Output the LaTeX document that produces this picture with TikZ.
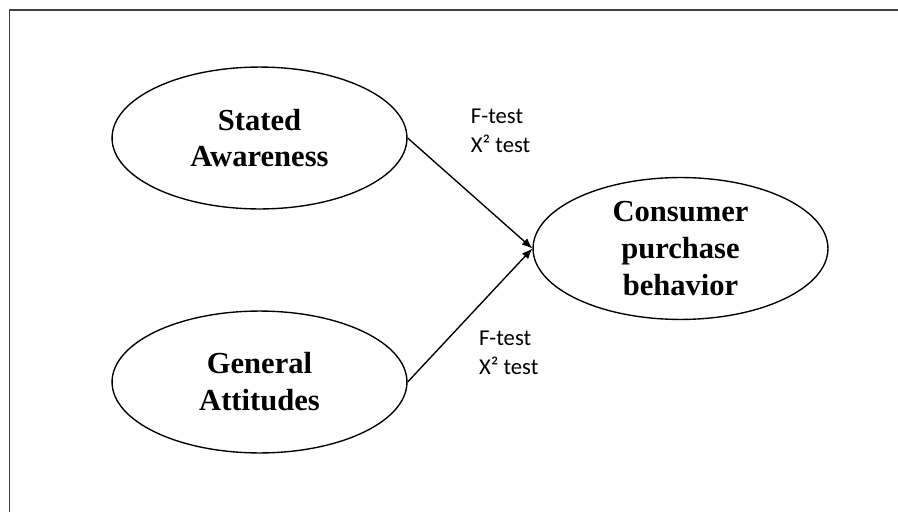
\documentclass[tikz,border=0pt]{standalone}
\usepackage{fontspec}
\setmainfont{Liberation Serif}
\newfontfamily\lblfont{Carlito}
\usepackage{tikz}
\usetikzlibrary{arrows.meta,positioning,shapes}
\definecolor{framegray}{RGB}{64,64,64}

\begin{document}
\begin{tikzpicture}[
  construct/.style={ellipse, draw, line width=1.3pt, minimum width=9.83cm, minimum height=4.73cm, inner sep=0pt, align=center, font=\bfseries\fontsize{29}{35}\selectfont},
  arrow/.style={-{Latex[length=10pt,width=8pt]}, line width=1.3pt},
  note/.style={font=\lblfont\fontsize{21.5}{27.5}\selectfont, align=left, inner sep=0pt}
]
  \useasboundingbox (0,0) rectangle (29.933,-17.067);
  \draw[framegray, line width=1.4pt] (0.31,-17.067) |- (29.933,-0.333);

  \node[construct] (aware) at (8.65,-4.6) {Stated\\Awareness};
  \node[construct] (attit) at (8.65,-12.733) {General\\Attitudes};
  \node[construct] (behav) at (22.683,-8.283) {Consumer\\purchase\\behavior};

  \draw[arrow] (aware.east) -- (behav.west);
  \draw[arrow] (attit.east) -- (behav.west);

  \node[note, anchor=north west] (test1) at (15.69,-3.62) {F-test\\X² test};
  \node[note, anchor=north west] (test2) at (15.96,-11.04) {F-test\\X² test};
\end{tikzpicture}
\end{document}
